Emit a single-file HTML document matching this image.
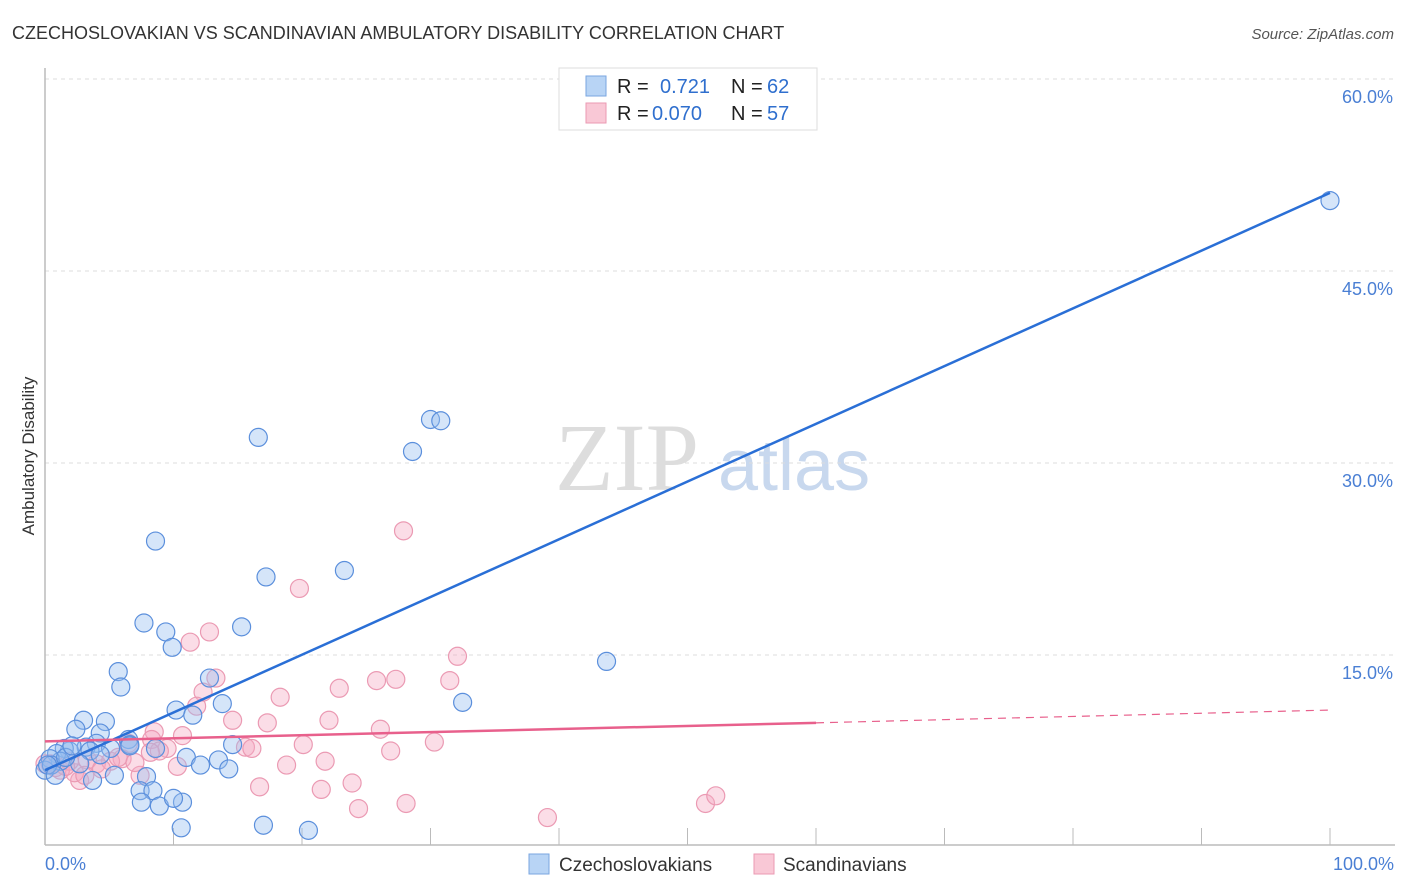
<!DOCTYPE html>
<html><head><meta charset="utf-8"><style>
body{margin:0;background:#fff;font-family:"Liberation Sans",sans-serif;}
svg{display:block}
</style></head><body>
<svg id="chart" width="1406" height="892">
<text x="12" y="39" font-size="18" fill="#333">CZECHOSLOVAKIAN VS SCANDINAVIAN AMBULATORY DISABILITY CORRELATION CHART</text>
<text x="1394" y="39" font-size="15" fill="#555" font-style="italic" text-anchor="end">Source: ZipAtlas.com</text>
<text x="34" y="456" font-size="17" fill="#333" text-anchor="middle" transform="rotate(-90 34 456)">Ambulatory Disability</text>
<g><text x="555" y="490" font-size="96" font-family="Liberation Serif,serif" fill="#ddd">ZIP</text><text x="718" y="490" font-size="72" fill="#c8d8ee">atlas</text></g>
<g id="grid"></g><g id="pts"></g><g id="lines"></g>
<g>
<rect x="559" y="68" width="258" height="62" fill="#fff" stroke="#ddd"/>
<rect x="586" y="76" width="20" height="20" fill="#b8d4f5" stroke="#7aa6e0"/>
<rect x="586" y="103" width="20" height="20" fill="#f9c8d6" stroke="#eb9ab3"/>
<text x="617" y="93" font-size="20" fill="#222">R =</text><text x="660" y="93" font-size="20" fill="#2f6fce">0.721</text>
<text x="731" y="93" font-size="20" fill="#222">N =</text><text x="767" y="93" font-size="20" fill="#2f6fce">62</text>
<text x="617" y="120" font-size="20" fill="#222">R =</text><text x="652" y="120" font-size="20" fill="#2f6fce">0.070</text>
<text x="731" y="120" font-size="20" fill="#222">N =</text><text x="767" y="120" font-size="20" fill="#2f6fce">57</text>
</g>
<g>
<rect x="529" y="854" width="20" height="20" fill="#b8d4f5" stroke="#7aa6e0"/>
<text x="559" y="871" font-size="19" fill="#333">Czechoslovakians</text>
<rect x="754" y="854" width="20" height="20" fill="#f9c8d6" stroke="#eb9ab3"/>
<text x="783" y="871" font-size="19" fill="#333">Scandinavians</text>
</g>
</svg>
<script>
const yTicks=[15,30,45,60];
const yTickLabels=["15.0%","30.0%","45.0%","60.0%"];
const xTickLabels=["0.0%","100.0%"];
const czX=[100,16.6,28.6,30,30.8,8.6,17.2,23.3,7.7,9.4,9.9,15.3,43.7,5.7,5.9,12.8,10.2,11.5,13.8,32.5,3,2.4,4.7,4.3,6.5,4,3.2,1.9,1.5,0.9,3.5,5.1,6.6,8.6,11,12.1,13.5,14.6,14.3,1.2,0.4,0,2.7,5.4,3.7,7.9,7.4,8.4,8.9,7.5,10.7,10,10.6,17,20.5,0.5,1.6,6.6,2.1,4.3,0.2,0.8];
const czY=[50.5,32,30.9,33.4,33.3,23.9,21.1,21.6,17.5,16.8,15.6,17.2,14.5,13.7,12.5,13.2,10.7,10.3,11.2,11.3,9.9,9.2,9.8,8.9,8.4,8.1,7.8,7.5,7.7,7.3,7.5,7.7,8,7.7,7,6.4,6.8,8,6.1,6.7,6.9,6,6.5,5.6,5.2,5.5,4.4,4.4,3.2,3.5,3.5,3.8,1.5,1.7,1.3,6.4,7,7.9,7.9,7.2,6.4,5.6];
const scX=[27.9,19.8,12.8,11.3,32.1,25.8,27.3,31.5,22.9,12.3,18.3,13.3,14.6,22.1,17.3,26.1,11.8,8.5,8.3,9.5,8.9,10.7,20.1,26.9,30.3,15.6,16.1,6.5,6,10.3,18.8,21.8,16.7,21.5,23.9,24.4,28.1,39.1,51.4,52.2,7.4,4,5.1,2.7,2.3,1.2,0.8,1.9,1.6,0.4,3.3,5.7,7,8.2,4.4,0,3.1];
const scY=[24.7,20.2,16.8,16,14.9,13,13.1,13,12.4,12.1,11.7,13.2,9.9,9.9,9.7,9.2,11,9,8.4,7.7,7.5,8.7,8.0,7.5,8.2,7.8,7.7,8.1,6.9,6.3,6.4,6.7,4.7,4.5,5.0,3.0,3.4,2.3,3.4,4.0,5.6,6.5,6.7,5.2,5.8,6.0,6.2,6.7,6.3,6.5,6.8,7.0,6.6,7.4,6.1,6.5,5.6];
const X=v=>45+v*12.85, Y=v=>847-v*12.8;
const NS="http://www.w3.org/2000/svg";
function mk(t,a,p){const e=document.createElementNS(NS,t);for(const k in a)e.setAttribute(k,a[k]);p.appendChild(e);return e;}
const grid=document.getElementById('grid');
yTicks.forEach((t,i)=>{
 const l=mk('line',{x1:45,x2:1395,y1:Y(t),y2:Y(t),stroke:'#ddd','stroke-dasharray':'4,4'},grid);
 
 
 const tx=mk('text',{x:1393,y:Y(t)+24,'font-size':18,fill:'#4a7fd4','text-anchor':'end'},grid);
 tx.textContent=yTickLabels[i];
 
 
});
const ax=mk('line',{x1:45,x2:1395,y1:845,y2:845,stroke:'#bbb','stroke-width':1.5},grid);


const ay=mk('line',{x1:45,x2:45,y1:68,y2:845,stroke:'#bbb','stroke-width':1.5},grid);


for(let i=1;i<=10;i++){const t=mk('line',{x1:X(i*10),x2:X(i*10),y1:828,y2:845,stroke:'#bbb'},grid);
 
 }
[[0,'start',45],[100,'end',1394]].forEach((d,i)=>{const t=mk('text',{x:d[2],y:870,'font-size':18,fill:'#4a7fd4','text-anchor':d[1]},grid);t.textContent=xTickLabels[i];
 
 });
const pts=document.getElementById('pts');
scX.forEach((x,i)=>{const c=mk('circle',{cx:X(x),cy:Y(scY[i]),r:9,fill:'rgba(246,170,195,0.4)',stroke:'#eb9ab3','stroke-width':1.2},pts);
 
 });
czX.forEach((x,i)=>{const c=mk('circle',{cx:X(x),cy:Y(czY[i]),r:9,fill:'rgba(150,190,240,0.4)',stroke:'#5b8fdc','stroke-width':1.2},pts);
 
 });
const lines=document.getElementById('lines');
const b=mk('line',{x1:X(0),y1:Y(6),x2:X(100),y2:Y(51.1),stroke:'#2a6fd6','stroke-width':2.5},lines);


const p=mk('line',{x1:X(0),y1:Y(8.25),x2:X(60),y2:Y(9.7),stroke:'#e8608c','stroke-width':2.5},lines);


const pd=mk('line',{x1:X(60),y1:Y(9.7),x2:X(100),y2:Y(10.7),stroke:'#e8608c','stroke-width':1.2,'stroke-dasharray':'8,6'},lines);


</script>
</body></html>
